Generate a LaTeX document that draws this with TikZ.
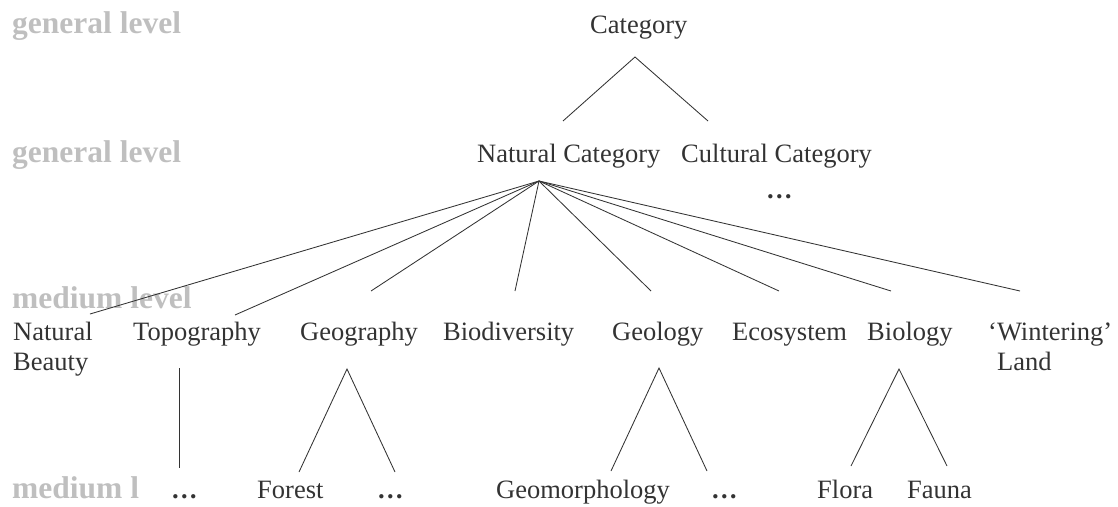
\documentclass[tikz,border=0pt]{standalone}
\usepackage{fontspec}
\setmainfont{Liberation Serif}
\definecolor{ink}{gray}{0.2}
\definecolor{levelgray}{gray}{0.75}
\begin{document}
\begin{tikzpicture}[x=1pt,y=-1pt,
  term/.style={anchor=base west, inner sep=0pt, text=ink,
    font=\fontsize{26.5}{30}\selectfont},
  more/.style={term, font=\fontsize{26.5}{30}\selectfont\bfseries},
  levellabel/.style={anchor=base west, inner sep=0pt, text=levelgray,
    font=\fontsize{31.5}{32}\selectfont\bfseries},
  link/.style={draw=ink, line width=0.85pt}]
\useasboundingbox (0,0) rectangle (1118,506);

% level captions on the left
\node[levellabel] (lv1) at (12,33)  {general level};
\node[levellabel] (lv2) at (12,162) {general level};
\node[levellabel] (lv3) at (12,308) {medium level};
\node[levellabel] (lv4) at (12,498) {medium l};

% top levels
\node[term] (cat) at (590,33)  {Category};
\node[term] (nat) at (477,162) {Natural Category};
\node[term] (cul) at (681,162) {Cultural Category};
\node[more] (culmore) at (766,198) {\ldots};

% medium level
\node[term] (nb)   at (13,340)  {\begin{tabular}[t]{@{}l@{}}Natural\\Beauty\end{tabular}};
\node[term] (topo) at (133,340) {Topography};
\node[term] (geog) at (300,340) {Geography};
\node[term] (biod) at (443,340) {Biodiversity};
\node[term] (geol) at (612,340) {Geology};
\node[term] (eco)  at (732,340) {Ecosystem};
\node[term] (biol) at (867,340) {Biology};
\node[term] (wint) at (988,340) {\begin{tabular}[t]{@{}l@{}}‘Wintering’\\\hspace{9pt}Land\end{tabular}};

% lowest level
\node[more] (topomore) at (171,498) {\ldots};
\node[term] (forest)   at (257,498) {Forest};
\node[more] (geogmore) at (377,498) {\ldots};
\node[term] (geom)     at (496,498) {Geomorphology};
\node[more] (geolmore) at (711,498) {\ldots};
\node[term] (flora)    at (817,498) {Flora};
\node[term] (fauna)    at (907,498) {Fauna};

% connector end points
\coordinate (cat-foot) at (635,57);
\coordinate (nat-head) at (563,121);
\coordinate (cul-head) at (708,121);
\coordinate (nat-foot) at (539,181);
\coordinate (nb-head)   at (90,314);
\coordinate (topo-head) at (235,315);
\coordinate (geog-head) at (371,291);
\coordinate (biod-head) at (515,291);
\coordinate (geol-head) at (651,291);
\coordinate (eco-head)  at (779,291);
\coordinate (biol-head) at (891,291);
\coordinate (wint-head) at (1020,291);
\coordinate (topo-foot) at (179,368);
\coordinate (topomore-head) at (179,468);
\coordinate (geog-foot) at (347,369);
\coordinate (forest-head)   at (299,472);
\coordinate (geogmore-head) at (395,472);
\coordinate (geol-foot) at (659,368);
\coordinate (geom-head)     at (611,471);
\coordinate (geolmore-head) at (707,471);
\coordinate (biol-foot) at (899,369);
\coordinate (flora-head) at (851,466);
\coordinate (fauna-head) at (947,466);

% connectors
\draw[link] (nat-head) -- (cat-foot) -- (cul-head);
\foreach \t in {nb,topo,geog,biod,geol,eco,biol,wint}
  \draw[link] (nat-foot) -- (\t-head);
\draw[link] (topo-foot) -- (topomore-head);
\draw[link] (forest-head) -- (geog-foot) -- (geogmore-head);
\draw[link] (geom-head) -- (geol-foot) -- (geolmore-head);
\draw[link] (flora-head) -- (biol-foot) -- (fauna-head);
\end{tikzpicture}
\end{document}
